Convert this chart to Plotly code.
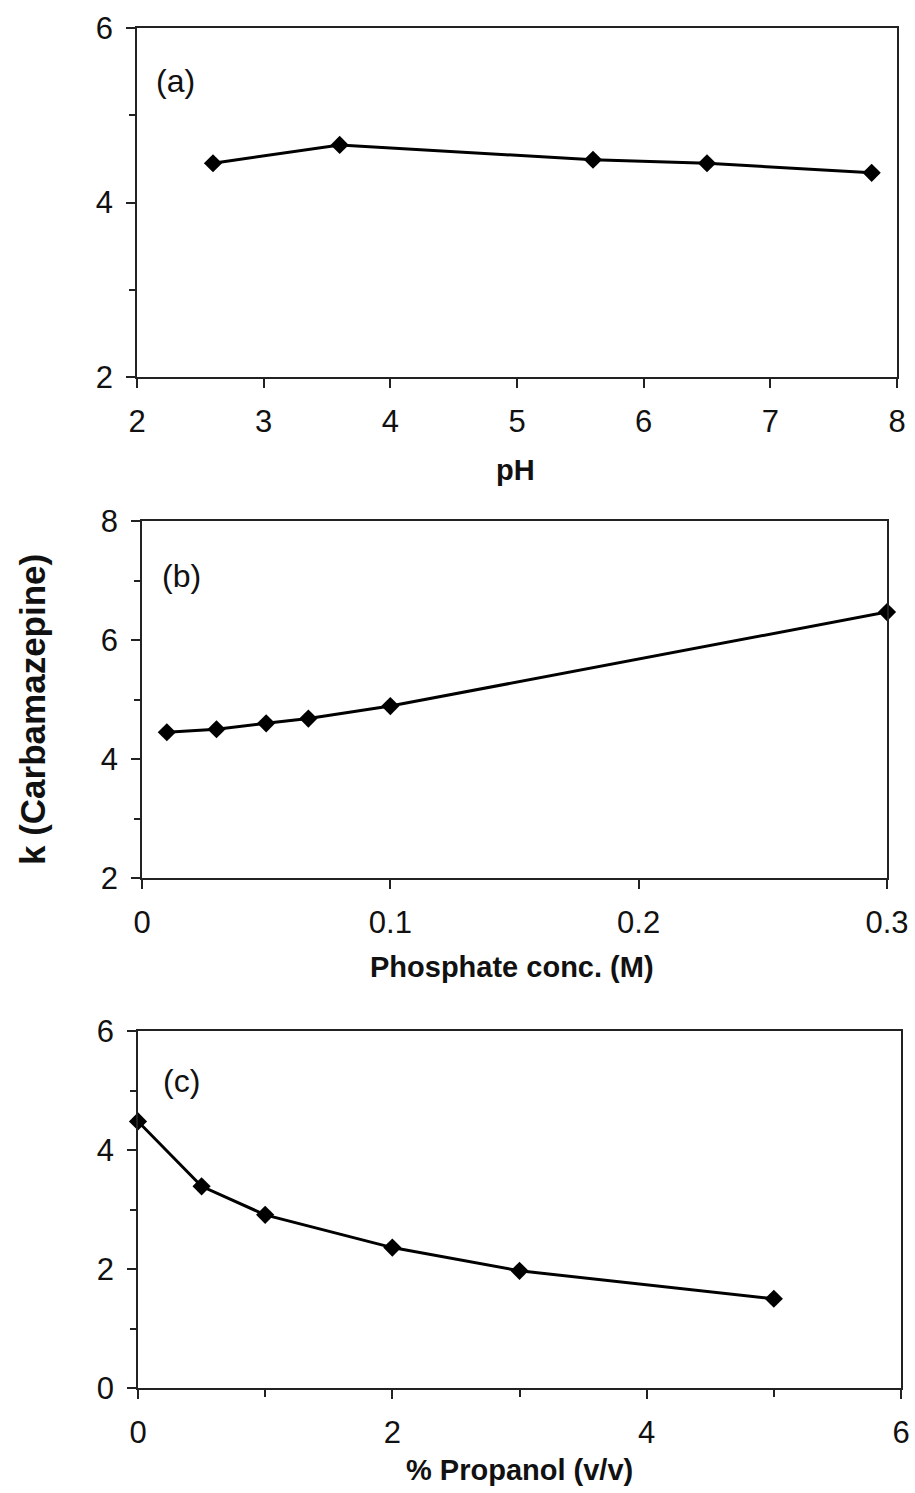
import plotly.graph_objects as go

# Panel (a): pH
ph = [2.6, 3.6, 5.6, 6.5, 7.8]
k_ph = [4.45, 4.66, 4.49, 4.45, 4.34]

# Panel (b): phosphate concentration (M)
phos = [0.01, 0.03, 0.05, 0.067, 0.1, 0.3]
k_phos = [4.45, 4.50, 4.60, 4.68, 4.89, 6.47]

# Panel (c): % propanol (v/v)
prop = [0, 0.5, 1, 2, 3, 5]
k_prop = [4.48, 3.39, 2.91, 2.36, 1.97, 1.50]

W, H = 915, 1493
FONT = "Liberation Sans, Arial, sans-serif"

def px(x):
    return x / W

def py(y):
    return 1 - y / H

fig = go.Figure()
series = [(ph, k_ph, "x", "y"), (phos, k_phos, "x2", "y2"), (prop, k_prop, "x3", "y3")]
for xs, ys, xa, ya in series:
    fig.add_trace(go.Scatter(
        x=xs, y=ys, xaxis=xa, yaxis=ya, mode="lines+markers",
        line=dict(color="black", width=3),
        marker=dict(symbol="diamond", size=14, color="black"),
        cliponaxis=False, showlegend=False))

common = dict(showline=True, mirror=True, linecolor="#222", linewidth=1.5,
              ticks="outside", ticklen=9, tickwidth=1.5, tickcolor="#222",
              showgrid=False, zeroline=False,
              tickfont=dict(family=FONT, size=31, color="#111"))

def yminor():
    return dict(ticks="outside", ticklen=6, tickwidth=1.5, tickcolor="#222", dtick=1, showgrid=False)

layout = dict(
    width=W, height=H, margin=dict(l=0, r=0, t=0, b=0, autoexpand=False),
    paper_bgcolor="white", plot_bgcolor="white",
    xaxis=dict(common, domain=[px(137), px(897)], range=[2, 8], dtick=1, anchor="y",
               ticklabelstandoff=7, automargin=False),
    yaxis=dict(common, domain=[py(377), py(28)], range=[2, 6], dtick=2, anchor="x",
               minor=yminor(), ticklabelstandoff=7, automargin=False),
    xaxis2=dict(common, domain=[px(142), px(887)], range=[0, 0.3], dtick=0.1, anchor="y2",
                ticklabelstandoff=7, automargin=False),
    yaxis2=dict(common, domain=[py(878), py(521)], range=[2, 8], dtick=2, anchor="x2",
                minor=yminor(), ticklabelstandoff=7, automargin=False),
    xaxis3=dict(common, domain=[px(138), px(901)], range=[0, 6], dtick=2, anchor="y3",
                minor=dict(ticks="outside", ticklen=7, tickwidth=1.5, tickcolor="#222", dtick=1, showgrid=False),
                ticklabelstandoff=7, automargin=False),
    yaxis3=dict(common, domain=[py(1388), py(1031)], range=[0, 6], dtick=2, anchor="x3",
                minor=yminor(), ticklabelstandoff=7, automargin=False),
)
fig.update_layout(**layout)

def ann(text, x, y, size, bold=False, angle=0):
    fig.add_annotation(
        text=("<b>%s</b>" % text) if bold else text,
        x=px(x), y=py(y), xref="paper", yref="paper",
        xanchor="center", yanchor="middle", showarrow=False, textangle=angle,
        font=dict(family=FONT, size=size, color="#111"))

ann("(a)", 175, 81, 32)
ann("(b)", 181, 576, 32)
ann("(c)", 181, 1081, 32)
ann("pH", 515, 470, 29, bold=True)
ann("Phosphate conc. (M)", 512, 967, 29, bold=True)
ann("% Propanol (v/v)", 519, 1470, 29, bold=True)
ann("k (Carbamazepine)", 33, 710, 35, bold=True, angle=-90)

fig.write_html("out.html")
